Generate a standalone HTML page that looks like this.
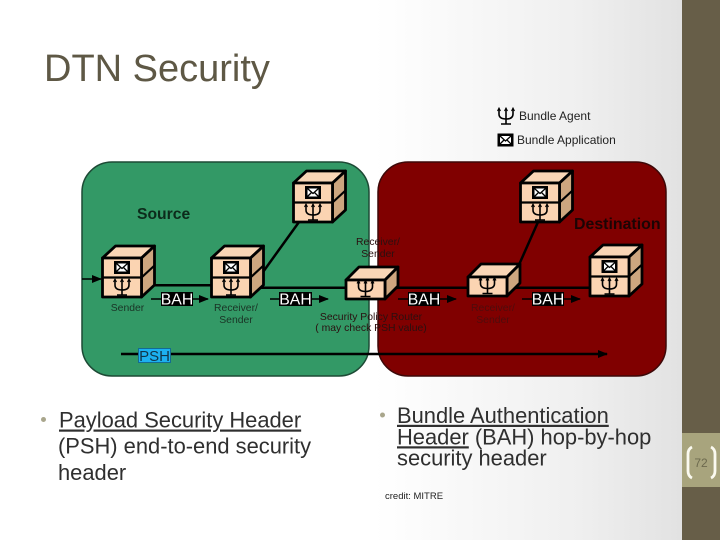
<!DOCTYPE html>
<html><head><meta charset="utf-8"><style>
html,body{margin:0;padding:0;width:720px;height:540px;overflow:hidden;background:#fff}
svg{display:block;font-family:"Liberation Sans",sans-serif}
</style></head><body>
<svg xmlns="http://www.w3.org/2000/svg" width="720" height="540" viewBox="0 0 720 540">
<defs>
<linearGradient id="bg" x1="0" y1="0" x2="682" y2="0" gradientUnits="userSpaceOnUse"><stop offset="0.55" stop-color="#fff"/><stop offset="0.85" stop-color="#efefef"/><stop offset="1" stop-color="#e2e2e2"/></linearGradient>
<marker id="ar" markerUnits="userSpaceOnUse" markerWidth="10" markerHeight="8" refX="9" refY="4" orient="auto"><path d="M0 0L10 4L0 8z" fill="#000"/></marker>
<g id="psi" fill="none" stroke="#000" stroke-width="1.6"><path d="M-7 -7V-2Q-7 3 0 3Q7 3 7 -2V-7M0 -7.500V8M-5 8H5"/><path d="M-8.500 -5L-7 -8L-5.500 -5M-1.500 -5L0 -8L1.500 -5M5.500 -5L7 -8L8.500 -5" stroke-width="1"/></g>
<g id="mail"><rect x="-8" y="-6.500" width="16" height="13" fill="#000"/><rect x="-5.500" y="-4" width="11" height="8" fill="#fff"/><path d="M-5.500 -4L0 1L5.500 -4M-5.500 4L-1.500 0M5.500 4L1.500 0" fill="none" stroke="#000" stroke-width="1.300"/></g>
<g id="cube" stroke="#000" stroke-width="2.800" stroke-linejoin="round">
<path d="M0 0L13 -12H52L39 0z" fill="#f9d6b6"/>
<path d="M39 0L52 -12V27L39 39z" fill="#cda67f"/>
<rect x="0" y="0" width="39" height="39" fill="#fbd4b2"/>
<path d="M0 19.500H39L52 7.500" fill="none" stroke-width="2.200"/>
<use href="#mail" x="19.500" y="9.500" stroke="none"/>
<use href="#psi" x="19.500" y="29" stroke-width="0"/>
</g>
<g id="half" stroke="#000" stroke-width="2.800" stroke-linejoin="round">
<path d="M0 0L13 -13H52L39 0z" fill="#f9d6b6"/>
<path d="M39 0L52 -13V6L39 19z" fill="#cda67f"/>
<rect x="0" y="0" width="39" height="19" fill="#fbd4b2"/>
<use href="#psi" x="19.500" y="8.500" stroke-width="0"/>
</g>
</defs>
<rect width="720" height="540" fill="url(#bg)"/>
<rect x="682" y="0" width="38" height="540" fill="#675e48"/>
<rect x="682" y="433" width="38" height="54" fill="#a8a47d"/>
<path d="M692 447Q688 449 688 454V471Q688 476 692 478" fill="none" stroke="#fbfaf0" stroke-width="2.800"/>
<path d="M711 447Q715 449 715 454V471Q715 476 711 478" fill="none" stroke="#fbfaf0" stroke-width="2.800"/>
<text x="701" y="467" font-size="12" fill="#6d6a4e" text-anchor="middle">72</text>

<text x="44" y="81" font-size="38" fill="#5e5845">DTN Security</text>

<use href="#psi" x="506" y="116"/>
<text x="519" y="120" font-size="12" fill="#222">Bundle Agent</text>
<use href="#mail" x="505.500" y="140"/>
<text x="517" y="144" font-size="12" fill="#222">Bundle Application</text>

<rect x="82" y="162" width="287" height="214" rx="30" fill="#339966" stroke="#1d4a35" stroke-width="1.500"/>
<rect x="378" y="162" width="288" height="214" rx="30" fill="#800000" stroke="#3d0808" stroke-width="1.500"/>

<text x="137" y="219" font-size="15.700" font-weight="bold" fill="#0c2b1b">Source</text>
<text x="574" y="229" font-size="15.900" font-weight="bold" fill="#1c0404">Destination</text>

<g stroke="#000" stroke-width="2.500" fill="none">
<path d="M82 279H101" marker-end="url(#ar)" stroke-width="1.600"/>
<path d="M145 285.300H212"/>
<path d="M255 287.700H346"/>
<path d="M390 287.700H468"/>
<path d="M508 287.700H590"/>
<path d="M299 222L263 272"/>
<path d="M538 222L518 267"/>
<path d="M263 272L258 286M518 267L515 279" stroke-width="2"/>
<path d="M121 354H607" marker-end="url(#ar)"/>
<path d="M151 299H208" stroke-width="1.500" marker-end="url(#ar)"/>
<path d="M270 299H328" stroke-width="1.500" marker-end="url(#ar)"/>
<path d="M398 299H456" stroke-width="1.500" marker-end="url(#ar)"/>
<path d="M522 299H580" stroke-width="1.500" marker-end="url(#ar)"/>
</g>

<use href="#cube" x="102.500" y="258"/>
<use href="#cube" x="211.500" y="258"/>
<use href="#cube" x="293.500" y="183"/>
<use href="#cube" x="520.500" y="183"/>
<use href="#cube" x="590" y="257"/>
<use href="#half" x="346" y="280"/>
<use href="#half" x="468" y="277"/>

<g fill="#000">
<rect x="161" y="292" width="32" height="14"/>
<rect x="279" y="292" width="33" height="14"/>
<rect x="408" y="292" width="32" height="14"/>
<rect x="532" y="292" width="32" height="14"/>
</g>
<g fill="#fff" font-size="15.800" text-anchor="middle">
<text x="177" y="304.500">BAH</text>
<text x="295.500" y="304.500">BAH</text>
<text x="424" y="304.500">BAH</text>
<text x="548" y="304.500">BAH</text>
</g>
<rect x="138.500" y="348.500" width="32" height="14" fill="#1cb0f0" stroke="#136b92"/>
<text x="154.500" y="361" font-size="15" fill="#10364a" text-anchor="middle">PSH</text>

<g font-size="10.400" text-anchor="middle" fill="#1a3325">
<text x="127.500" y="311">Sender</text>
<text x="236" y="311">Receiver/</text>
<text x="236" y="323">Sender</text>
</g>
<g font-size="10.400" text-anchor="middle" fill="#2a1010">
<text x="378" y="245">Receiver/</text>
<text x="378" y="257">Sender</text>
<text x="371" y="320">Security Policy Router</text>
<text x="371" y="331">( may check PSH value)</text>
</g>
<g font-size="10.400" text-anchor="middle" fill="#4e0c0c">
<text x="493" y="311">Receiver/</text>
<text x="493" y="323">Sender</text>
</g>

<circle cx="43.500" cy="419.500" r="2.500" fill="#a9a68c"/>
<g font-size="21.900" fill="#2f2f2f">
<text x="59" y="427.500" text-decoration="underline">Payload Security Header</text>
<text x="58" y="453.500">(PSH) end-to-end security</text>
<text x="58" y="480">header</text>
</g>
<circle cx="382.500" cy="415" r="2.500" fill="#a9a68c"/>
<g font-size="21.900" fill="#2f2f2f">
<text x="397" y="422.800" text-decoration="underline">Bundle Authentication</text>
<text x="397" y="444.300"><tspan text-decoration="underline">Header</tspan> (BAH) hop-by-hop</text>
<text x="397" y="465.300">security header</text>
</g>
<text x="385" y="499" font-size="9.500" fill="#222">credit: MITRE</text>
</svg>
</body></html>
